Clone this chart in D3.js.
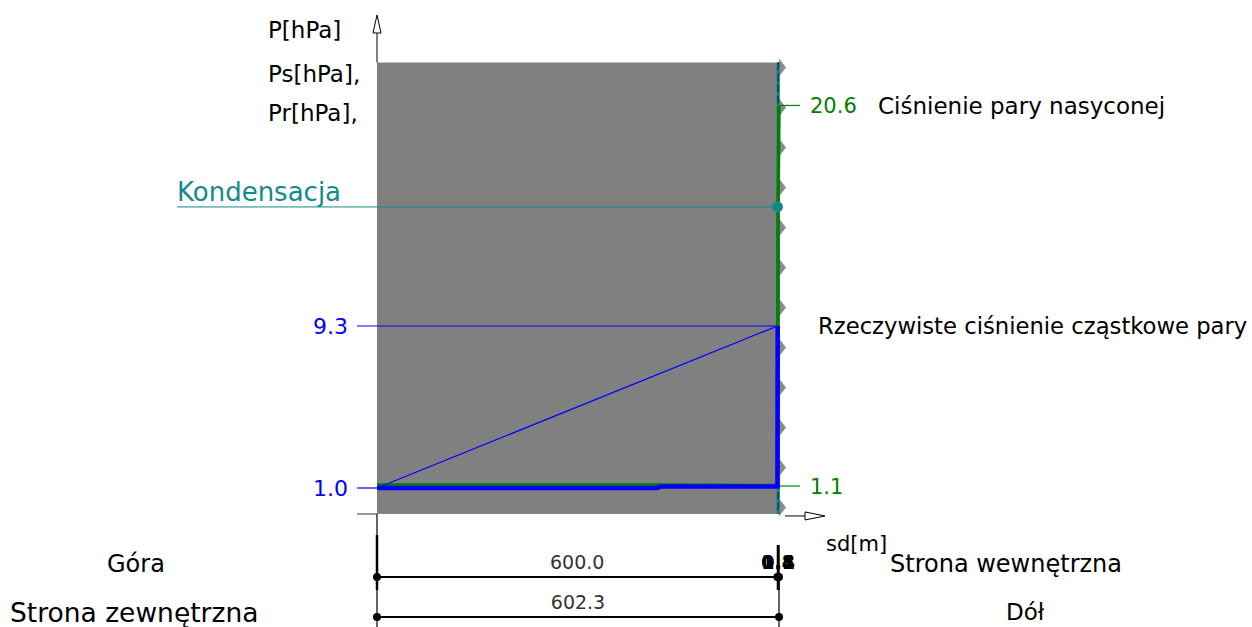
<!DOCTYPE html>
<html>
<head>
<meta charset="utf-8">
<script src="https://cdn.jsdelivr.net/npm/d3@7"></script>
<style>
  body { margin: 0; background: #fff; }
  text { font-family: "DejaVu Sans", Verdana, sans-serif; }
</style>
</head>
<body>
<div id="chart"></div>
<script>
// layers (equivalent air layer thickness sd [m])
const layerSd = [600.0, 0.8, 0.1, 1.4];
const layerLabels = ["600.0", "0.8", "0.1", "1.4"];
const totalLabel = "602.3";

// saturation pressure Ps [hPa] along sd
const psSd = [0, 420, 600, 600.8, 600.9, 602.3];
const psVal = [1.16, 1.16, 1.13, 14.0, 15.4, 20.6];

// actual partial pressure Pr [hPa], straight line
const prSd = [0, 600, 602.3];
const prVal = [1.0, 9.3, 9.3];

// corrected actual pressure (limited by saturation)
const prCorrSd = [0, 420, 425, 600, 600.3];
const prCorrVal = [1.0, 1.0, 1.08, 1.08, 9.3];

// condensation point
const condSd = 600;
const condP = 15.4;

// tick labels
const leftTicks = [9.3, 1.0];
const rightTicks = [1.1, 20.6];
const pRange = [-0.33, 22.8];

const width = 1252, height = 627;
const teal = "#138a8a", green = "#008000", blue = "#0000ff";

const svg = d3.select("#chart").append("svg")
    .attr("width", width)
    .attr("height", height);

const sdTotal = d3.sum(layerSd);
const bounds = [0].concat(Array.from(d3.cumsum(layerSd)));

const x = d3.scaleLinear().domain([0, sdTotal]).range([377, 779]);
const y = d3.scaleLinear().domain([1.0, 9.3]).range([488, 326]);

// layer body
svg.append("rect")
    .attr("x", x(0))
    .attr("y", y(pRange[1]))
    .attr("width", x(sdTotal) - x(0))
    .attr("height", y(pRange[0]) - y(pRange[1]))
    .attr("fill", "#808080");

// zigzag edge on the inner side
const zig = svg.append("g").attr("fill", "#8a8a8a");
d3.range(y(pRange[1]) + 5, y(pRange[0]), 40).forEach(function (py) {
    zig.append("path")
        .attr("d", `M${x(sdTotal)},${py - 9} L${x(sdTotal) + 7},${py} L${x(sdTotal)},${py + 9} Z`);
});

// layer boundaries
bounds.slice(1).forEach(function (b) {
    svg.append("line")
        .attr("x1", x(b)).attr("x2", x(b))
        .attr("y1", y(pRange[1])).attr("y2", y(pRange[0]))
        .attr("stroke", teal).attr("stroke-width", 1.8);
});
svg.append("line")
    .attr("x1", x(600.9)).attr("x2", x(600.9))
    .attr("y1", y(pRange[1])).attr("y2", y(pRange[0]))
    .attr("stroke", "#000").attr("stroke-width", 0.8)
    .attr("stroke-dasharray", "8,3");

// condensation line
svg.append("line")
    .attr("x1", 177).attr("x2", x(condSd))
    .attr("y1", y(condP)).attr("y2", y(condP))
    .attr("stroke", teal).attr("stroke-width", 1);

// tick lines left
svg.append("line")
    .attr("x1", 357).attr("x2", x(600))
    .attr("y1", y(leftTicks[0])).attr("y2", y(leftTicks[0]))
    .attr("stroke", blue).attr("stroke-width", 1.2);
svg.append("line")
    .attr("x1", 357).attr("x2", x(0))
    .attr("y1", y(leftTicks[1])).attr("y2", y(leftTicks[1]))
    .attr("stroke", blue).attr("stroke-width", 1.2);
svg.append("line")
    .attr("x1", 357).attr("x2", x(0))
    .attr("y1", y(pRange[0])).attr("y2", y(pRange[0]))
    .attr("stroke", "#777").attr("stroke-width", 1.5);

// tick lines right
rightTicks.forEach(function (v) {
    svg.append("line")
        .attr("x1", x(sdTotal)).attr("x2", 800)
        .attr("y1", y(v)).attr("y2", y(v))
        .attr("stroke", green).attr("stroke-width", 1.2);
});

const line = d3.line().x(d => x(d[0])).y(d => y(d[1]));

// saturation pressure
svg.append("path")
    .datum(d3.zip(psSd, psVal))
    .attr("d", line)
    .attr("fill", "none")
    .attr("stroke", green).attr("stroke-width", 3.5);

// actual pressure (thin)
svg.append("path")
    .datum(d3.zip(prSd, prVal))
    .attr("d", line)
    .attr("fill", "none")
    .attr("stroke", blue).attr("stroke-width", 1.2);

// corrected actual pressure (thick)
svg.append("path")
    .datum(d3.zip(prCorrSd, prCorrVal))
    .attr("d", line)
    .attr("fill", "none")
    .attr("stroke", blue).attr("stroke-width", 4.5);

// condensation marker
svg.append("circle")
    .attr("cx", x(condSd)).attr("cy", y(condP)).attr("r", 5.5)
    .attr("fill", teal);

// y axis with open arrow
svg.append("line")
    .attr("x1", x(0)).attr("x2", x(0))
    .attr("y1", 33).attr("y2", y(pRange[1]))
    .attr("stroke", "#000").attr("stroke-width", 1);
svg.append("path")
    .attr("d", `M${x(0)},15 L${x(0) - 4},33 L${x(0) + 4},33 Z`)
    .attr("fill", "#fff").attr("stroke", "#000").attr("stroke-width", 1);

// x axis with open arrow
svg.append("line")
    .attr("x1", x(sdTotal) + 6).attr("x2", 805)
    .attr("y1", y(pRange[0]) + 2).attr("y2", y(pRange[0]) + 2)
    .attr("stroke", "#000").attr("stroke-width", 1);
svg.append("path")
    .attr("d", `M825,${y(pRange[0]) + 2} L805,${y(pRange[0]) - 2} L805,${y(pRange[0]) + 6} Z`)
    .attr("fill", "#fff").attr("stroke", "#000").attr("stroke-width", 1);

// dimension lines
const dimY1 = 577, dimY2 = 617;
svg.append("line")
    .attr("x1", x(0)).attr("x2", x(0))
    .attr("y1", y(pRange[0])).attr("y2", height)
    .attr("stroke", "#000").attr("stroke-width", 1.2);
svg.append("line")
    .attr("x1", x(sdTotal)).attr("x2", x(sdTotal))
    .attr("y1", 577).attr("y2", height)
    .attr("stroke", "#000").attr("stroke-width", 1.2);
bounds.forEach(function (b, i) {
    svg.append("line")
        .attr("x1", x(b)).attr("x2", x(b))
        .attr("y1", i === 0 ? 535 : 545).attr("y2", 590)
        .attr("stroke", "#000").attr("stroke-width", i === 0 ? 2.5 : 1.5);
});
svg.append("line")
    .attr("x1", x(0)).attr("x2", x(sdTotal))
    .attr("y1", dimY1).attr("y2", dimY1)
    .attr("stroke", "#000").attr("stroke-width", 2);
svg.append("line")
    .attr("x1", x(0)).attr("x2", x(sdTotal))
    .attr("y1", dimY2).attr("y2", dimY2)
    .attr("stroke", "#000").attr("stroke-width", 2);
svg.selectAll(".dot1").data(bounds).enter().append("circle")
    .attr("cx", d => x(d)).attr("cy", dimY1).attr("r", 4).attr("fill", "#000");
svg.selectAll(".dot2").data([0, sdTotal]).enter().append("circle")
    .attr("cx", d => x(d)).attr("cy", dimY2).attr("r", 4).attr("fill", "#000");

layerSd.forEach(function (s, i) {
    const mid = (x(bounds[i]) + x(bounds[i + 1])) / 2;
    svg.append("text")
        .attr("x", i === 0 ? mid : x(600.9)).attr("y", dimY1 - 8)
        .attr("text-anchor", "middle")
        .attr("font-size", 19)
        .attr("font-weight", i === 0 ? "normal" : "bold")
        .attr("fill", i === 0 ? "#333" : "#000")
        .text(layerLabels[i]);
});
svg.append("text")
    .attr("x", (x(0) + x(sdTotal)) / 2).attr("y", dimY2 - 8)
    .attr("text-anchor", "middle")
    .attr("font-size", 19).attr("fill", "#333")
    .text(totalLabel);

// labels
function label(txt, px, py, size, color, anchor) {
    svg.append("text")
        .attr("x", px).attr("y", py + size * 0.36)
        .attr("font-size", size)
        .attr("fill", color || "#000")
        .attr("text-anchor", anchor || "start")
        .text(txt);
}
label("P[hPa]", 268, 30, 23);
label("Ps[hPa],", 268, 74, 23);
label("Pr[hPa],", 268, 113, 23);
label("Kondensacja", 177, 192, 26, teal);
label(leftTicks[0].toFixed(1), 348, y(leftTicks[0]), 22, blue, "end");
label(leftTicks[1].toFixed(1), 348, y(leftTicks[1]), 22, blue, "end");
label(rightTicks[1].toFixed(1), 810, y(rightTicks[1]), 21, green);
label(rightTicks[0].toFixed(1), 810, y(rightTicks[0]), 21, green);
label("Ciśnienie pary nasyconej", 878, y(rightTicks[1]), 23);
label("Rzeczywiste ciśnienie cząstkowe pary", 818, y(leftTicks[0]), 22.7);
label("sd[m]", 826, 543, 21);
label("Góra", 107, 563, 24);
label("Strona zewnętrzna", 10, 612, 26.5);
label("Strona wewnętrzna", 890, 563, 24);
label("Dół", 1006, 612, 23);
</script>
</body>
</html>
